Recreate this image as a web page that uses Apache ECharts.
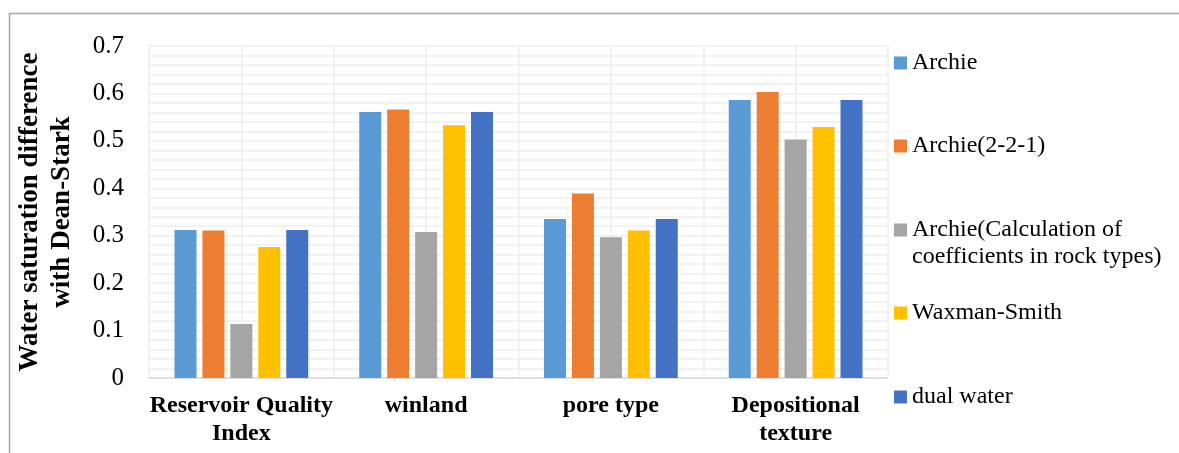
<!DOCTYPE html>
<html>
<head>
<meta charset="utf-8">
<script src="https://cdn.jsdelivr.net/npm/echarts@6/dist/echarts.min.js"></script>
<style>
html,body{margin:0;padding:0;background:#fff;}
#c{width:1179px;height:453px;}
</style>
</head>
<body>
<div id="c"></div>
<script>
const categories = ['Reservoir Quality\nIndex', 'winland', 'pore type', 'Depositional\ntexture'];
const seriesNames = ['Archie', 'Archie(2-2-1)', 'Archie(Calculation of coefficients in rock types)', 'Waxman-Smith', 'dual water'];
const archie = [0.312, 0.561, 0.335, 0.586];
const archie221 = [0.311, 0.566, 0.389, 0.603];
const archieCalc = [0.114, 0.308, 0.297, 0.503];
const waxmanSmith = [0.276, 0.533, 0.311, 0.529];
const dualWater = [0.312, 0.561, 0.335, 0.586];
const yTicks = [0, 0.1, 0.2, 0.3, 0.4, 0.5, 0.6, 0.7];

const colors = ['#5B9BD5', '#ED7D31', '#A5A5A5', '#FFC000', '#4472C4'];
const values = [archie, archie221, archieCalc, waxmanSmith, dualWater];
const serif = '"Liberation Serif", "Times New Roman", serif';

const chart = echarts.init(document.getElementById('c'), null, {renderer: 'canvas'});

const legendCenters = [63, 146, 230, 313, 397];
const legends = seriesNames.map((n, i) => {
  const lh = 27;
  const multi = i === 2;
  return {
    data: [n],
    orient: 'vertical',
    left: 894,
    top: multi ? legendCenters[i] - lh * 1.5 : legendCenters[i] - lh / 2,
    padding: 0,
    itemWidth: 13,
    itemHeight: 13,
    icon: 'rect',
    selectedMode: false,
    formatter: multi ? function () { return '\nArchie(Calculation of\ncoefficients in rock types)'; } : '{name}',
    textStyle: {fontFamily: serif, fontSize: 24, color: '#000', lineHeight: lh}
  };
});

chart.setOption({
  animation: false,
  color: colors,
  grid: {left: 149, right: 291, top: 46, bottom: 75, containLabel: false, outerBoundsMode: 'none'},
  graphic: [{
    type: 'polyline',
    shape: {points: [[9.5, 470], [9.5, 13.5], [1200, 13.5]]},
    style: {fill: 'none', stroke: '#a6a6a6', lineWidth: 1.5},
    silent: true,
    z: -10
  }],
  legend: legends,
  xAxis: [{
    type: 'category',
    data: categories,
    axisLine: {show: true, lineStyle: {color: '#d9d9d9', width: 1.5}},
    axisTick: {show: false},
    splitLine: {show: false},
    axisLabel: {
      fontFamily: serif, fontSize: 24, fontWeight: 'bold', color: '#000',
      lineHeight: 28, margin: 14, interval: 0
    }
  }, {
    type: 'value',
    min: 0, max: 8, interval: 1,
    position: 'bottom',
    show: true,
    axisLine: {show: false},
    axisTick: {show: false},
    axisLabel: {show: false},
    splitLine: {show: true, lineStyle: {color: '#eeeeee', width: 1.5}}
  }],
  yAxis: {
    type: 'value',
    min: 0, max: 0.7, interval: 0.1,
    name: 'Water saturation difference\nwith Dean-Stark',
    nameLocation: 'middle',
    nameGap: 71,
    nameTextStyle: {fontFamily: serif, fontSize: 27, fontWeight: 'bold', color: '#000', lineHeight: 32},
    axisLine: {show: false},
    axisTick: {show: false},
    axisLabel: {
      fontFamily: serif, fontSize: 25, color: '#000', margin: 25,
      formatter: function (v) {
        const t = yTicks.find(x => Math.abs(x - v) < 1e-9);
        return t === 0 ? '0' : (t !== undefined ? t.toFixed(1) : '');
      }
    },
    splitLine: {show: true, lineStyle: {color: '#eeeeee', width: 1.5}},
    minorTick: {show: false, splitNumber: 5},
    minorSplitLine: {show: true, lineStyle: {color: '#eeeeee', width: 1.5}}
  },
  series: seriesNames.map((n, i) => ({
    name: n,
    type: 'bar',
    xAxisIndex: 0,
    data: values[i],
    barWidth: 22,
    barGap: '27%',
    itemStyle: {color: colors[i]},
    z: 5
  }))
});
</script>
</body>
</html>
